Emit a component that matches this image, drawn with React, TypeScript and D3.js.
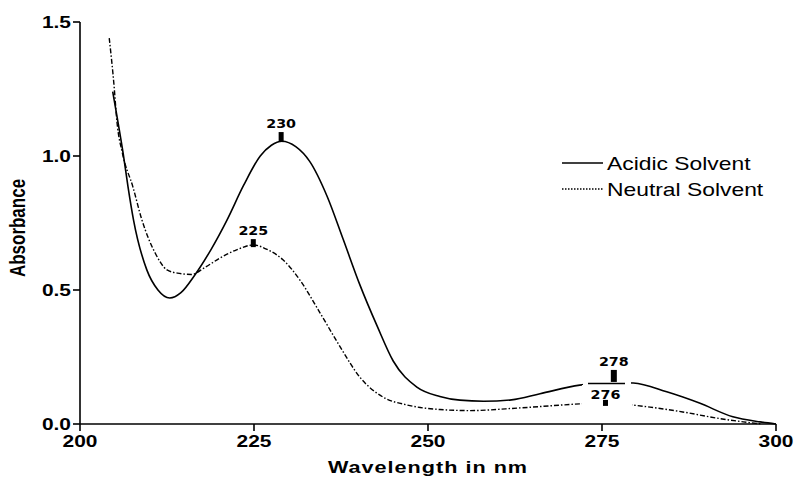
import React from "react";
import * as d3 from "d3";

const xTicks = [200, 225, 250, 275, 300];
const yTicks = [0.0, 0.5, 1.0, 1.5];

const acidicNm = [204.7, 205.5, 206.2, 206.9, 207.7, 209.6, 211.2, 212.9, 214.5, 216.5, 218.8, 221.1, 223.5, 225.9, 227.5, 229, 231, 233, 235.5, 237.8, 240.2, 242.7, 245, 248.4, 251.7, 254.6, 258, 262, 266.1, 271.8, 276, 279.5, 284.3, 289, 293.8, 297.7, 300];
const acidicAbs = [1.24, 1.12, 1.01, 0.885, 0.76, 0.575, 0.5, 0.47, 0.49, 0.556, 0.65, 0.76, 0.89, 1.0, 1.04, 1.055, 1.035, 0.98, 0.85, 0.69, 0.52, 0.365, 0.235, 0.138, 0.103, 0.089, 0.085, 0.09, 0.113, 0.145, 0.155, 0.153, 0.12, 0.078, 0.027, 0.008, 0];

const neutralNm = [204.2, 204.9, 205.3, 206.1, 207.6, 208.9, 210.8, 212.5, 214, 216, 218, 220.1, 222.5, 224.9, 227, 229.2, 231.6, 234.5, 237.4, 240.2, 243.5, 247, 251.7, 256, 263.2, 271.8, 276, 279.3, 281.9, 286.6, 291.5, 295.3, 298];
const neutralAbs = [1.44, 1.26, 1.13, 1.01, 0.885, 0.761, 0.638, 0.575, 0.563, 0.558, 0.585, 0.619, 0.65, 0.668, 0.65, 0.612, 0.537, 0.414, 0.287, 0.175, 0.101, 0.071, 0.054, 0.05, 0.06, 0.075, 0.08, 0.071, 0.063, 0.045, 0.022, 0.008, 0];

const peakNm = [228.9, 224.9, 276.7, 275.5];
const peakAbs = [1.052, 0.66, 0.157, 0.075];
const peakText = ["230", "225", "278", "276"];

const seriesNames = ["Acidic Solvent", "Neutral Solvent"];

const W = 794, H = 478;
const SX = 1.27;
const sans = "'Liberation Sans', Arial, sans-serif";

function T(props: { x: number; y: number; anchor?: string; size: number; weight?: string; family?: string; children: any; ls?: number; rotate?: boolean; sx?: number }) {
  const s = props.sx || SX;
  const tr = props.rotate
    ? `translate(${props.x},${props.y}) rotate(-90) scale(1.0,${s})`
    : `translate(${props.x},${props.y}) scale(${s},1)`;
  return (
    <text transform={tr} textAnchor={props.anchor || "start"} fontSize={props.size} fontWeight={props.weight || "normal"}
      fontFamily={props.family || sans} letterSpacing={props.ls || 0} fill="#000">
      {props.children}
    </text>
  );
}

export default function App() {
  const x = d3.scaleLinear().domain([200, 300]).range([80, 776]);
  const y = d3.scaleLinear().domain([0, 1.5]).range([424, 22]);
  const line = d3.line<[number, number]>().x(d => x(d[0])).y(d => y(d[1])).curve(d3.curveMonotoneX);
  const acidic = acidicNm.map((n, i) => [n, acidicAbs[i]] as [number, number]);
  const neutral = neutralNm.map((n, i) => [n, neutralAbs[i]] as [number, number]);
  const markH = [10, 8, 12, 6];

  return (
    <svg width={W} height={H} style={{ position: "absolute", left: 0, top: 0, background: "#fff" }}>
      <rect width={W} height={H} fill="#fff" />
      <path d={line(acidic) || ""} fill="none" stroke="#000" strokeWidth={1.6} />
      <path d={line(neutral) || ""} fill="none" stroke="#000" strokeWidth={1.4} strokeDasharray="5,2,1.5,2" />
      <rect x={582} y={385} width={50} height={25} fill="#fff" />
      <rect x={583} y={378} width={48} height={7} fill="#fff" />
      <line x1={588} x2={625} y1={383.5} y2={383.5} stroke="#000" strokeWidth={1.5} />
      {peakNm.map((n, i) => {
        const px = x(n), py = y(peakAbs[i]);
        const h = markH[i];
        const w = i === 2 ? 6 : 5;
        const top = i === 3 ? py - 4 : py - h;
        return (
          <g key={i}>
            <rect x={px - w / 2} y={top} width={w} height={h} fill="#000" />
            <T x={px} y={i === 3 ? top - 1 : top - 4} anchor="middle" size={13} weight="bold" sx={1.1} family="'DejaVu Sans', Verdana, sans-serif">{peakText[i]}</T>
          </g>
        );
      })}
      <line x1={80} x2={80} y1={y(1.5)} y2={y(0)} stroke="#000" strokeWidth={1.6} />
      <line x1={80} x2={776} y1={y(0)} y2={y(0)} stroke="#000" strokeWidth={1.6} />
      {yTicks.map(t => (
        <g key={"y" + t}>
          <line x1={73} x2={80} y1={y(t)} y2={y(t)} stroke="#000" strokeWidth={1.6} />
          <T x={71} y={y(t) + 6} anchor="end" size={16.5} weight="bold">{t.toFixed(1)}</T>
        </g>
      ))}
      {xTicks.map(t => (
        <g key={"x" + t}>
          <line x1={x(t)} x2={x(t)} y1={y(0)} y2={y(0) + 7} stroke="#000" strokeWidth={1.6} />
          <T x={x(t)} y={447} anchor="middle" size={16.5} weight="bold">{String(t)}</T>
        </g>
      ))}
      <T x={428} y={473} anchor="middle" size={17} weight="bold" ls={0.8}>Wavelength in nm</T>
      <T x={25} y={228} anchor="middle" size={17} weight="bold" rotate>Absorbance</T>
      <line x1={562} x2={603} y1={163} y2={163} stroke="#000" strokeWidth={1.6} />
      <T x={607} y={170} size={18}>{seriesNames[0]}</T>
      <line x1={562} x2={603} y1={189} y2={189} stroke="#000" strokeWidth={1.3} strokeDasharray="1.5,1.5" />
      <T x={607} y={196} size={18}>{seriesNames[1]}</T>
    </svg>
  );
}
